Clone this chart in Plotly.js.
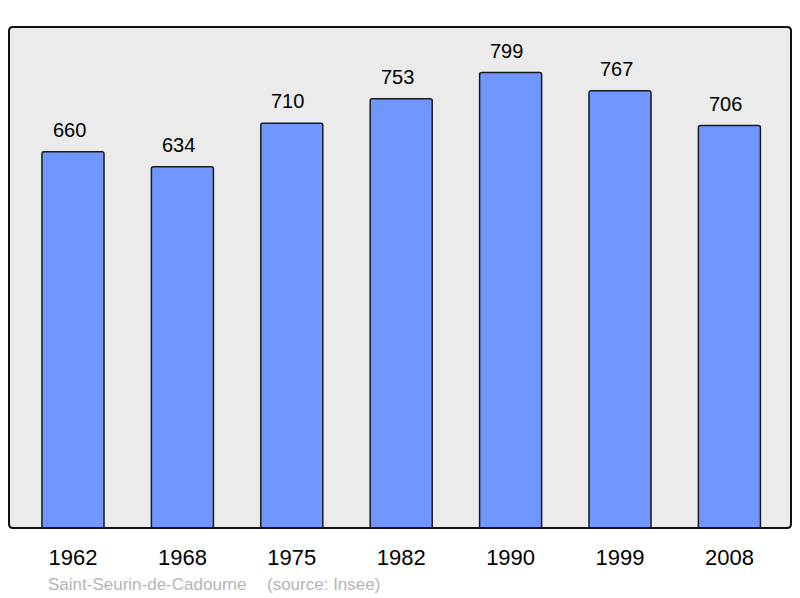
<!DOCTYPE html>
<html>
<head>
<meta charset="utf-8">
<script src="https://cdn.plot.ly/plotly-3.0.1.min.js"></script>
<style>
  html, body { margin: 0; padding: 0; background: #fff; }
  #chart { width: 800px; height: 598px; }
</style>
</head>
<body>
<div id="chart"></div>
<script>
var years = ['1962', '1968', '1975', '1982', '1990', '1999', '2008'];
var population = [660, 634, 710, 753, 799, 767, 706];
var commune = 'Saint-Seurin-de-Cadourne';
var source = '(source: Insee)';

var idx = years.map(function (y, i) { return i; });
var FONT = 'Liberation Sans, Arial, sans-serif';

var bars = {
  type: 'bar',
  x: idx,
  y: population,
  width: 0.567,
  marker: {
    color: '#7096ff',
    line: { color: '#1a1a1a', width: 1.5 },
    cornerradius: 2
  },
  hoverinfo: 'none'
};

var valueLabels = idx.map(function (i) {
  return {
    x: i, y: population[i], xref: 'x', yref: 'y',
    text: String(population[i]),
    showarrow: false, yanchor: 'bottom', yshift: 9, xshift: -4,
    font: { family: FONT, size: 20, color: '#000' }
  };
});

// rounded frame round the plot area (radius about 4px)
var rx = 4 / 782, ry = 4 / 501;
var frame = 'M ' + rx + ',0 L ' + (1 - rx) + ',0 Q 1,0 1,' + ry +
  ' L 1,' + (1 - ry) + ' Q 1,1 ' + (1 - rx) + ',1 L ' + rx + ',1 Q 0,1 0,' + (1 - ry) +
  ' L 0,' + ry + ' Q 0,0 ' + rx + ',0 Z';

var layout = {
  width: 800,
  height: 598,
  margin: { l: 9, r: 9, t: 27, b: 70 },
  paper_bgcolor: '#fff',
  plot_bgcolor: '#ebebeb',
  showlegend: false,
  xaxis: {
    range: [-0.585, 6.563],
    tickvals: idx,
    ticktext: years,
    showgrid: false, zeroline: false, showline: false,
    ticks: '', ticklabelstandoff: 14,
    tickfont: { family: FONT, size: 22, color: '#000' },
    fixedrange: true
  },
  yaxis: {
    range: [0, 879],
    showgrid: false, zeroline: false, showline: false,
    showticklabels: false, ticks: '',
    fixedrange: true
  },
  shapes: [{
    type: 'path', xref: 'paper', yref: 'paper',
    path: frame,
    line: { color: '#111', width: 2 }
  }],
  annotations: valueLabels.concat([
    {
      xref: 'paper', yref: 'paper', x: 0.0474, y: -0.112,
      xanchor: 'left', yanchor: 'middle', showarrow: false,
      text: commune,
      font: { family: FONT, size: 17, color: '#b4b4b4' }
    },
    {
      xref: 'paper', yref: 'paper', x: 0.327, y: -0.112,
      xanchor: 'left', yanchor: 'middle', showarrow: false,
      text: source,
      font: { family: FONT, size: 17, color: '#b4b4b4' }
    }
  ])
};

Plotly.newPlot('chart', [bars], layout, { displayModeBar: false, staticPlot: true });
</script>
</body>
</html>
